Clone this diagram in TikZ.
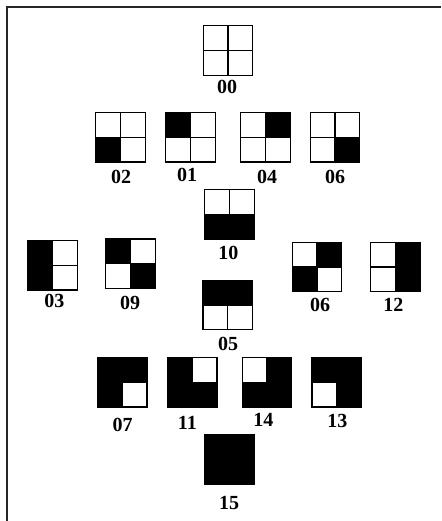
\documentclass[tikz,border=0pt]{standalone}
\usepackage{fontspec}
\setmainfont{Liberation Serif}
\usepackage{tikz}
\usetikzlibrary{positioning}

% one 2x2 tile: name, centre, filled corners
\newcommand{\tile}[3]{%
  \node[tilebox] (#1) at (#2) {};
  \foreach \c in {#3} {\fill[black] (#1.center) rectangle (#1.\c);}
  \draw[tileline] (#1.north) -- (#1.south) (#1.west) -- (#1.east);
  \draw[tileline] (#1.north west) rectangle (#1.south east);
}

\begin{document}
\begin{tikzpicture}[x=1pt,y=-1pt,
  tilebox/.style={minimum size=49.5pt,inner sep=0pt,outer sep=0pt},
  tileline/.style={line width=1.2pt,black},
  lbl/.style={font=\bfseries\fontsize{20}{20}\selectfont,inner sep=0pt},
  frameline/.style={line width=2pt,black!85}]
\useasboundingbox (0,0) rectangle (441,521);
\draw[frameline] (7,521) -- (7,7) -- (441,7);
% ---------- top ----------
\tile{t00}{228,50.5}{}
\node[lbl] (l00) at (227,87) {00};
% ---------- one corner ----------
\tile{t02}{120.5,137.3}{south west}
\node[lbl] (l02) at (121,176.7) {02};
\tile{t01}{190.5,137.3}{north west}
\node[lbl] (l01) at (187,175) {01};
\tile{t04}{265.5,137.3}{north east}
\node[lbl] (l04) at (267,176.7) {04};
\tile{t06a}{335,137.3}{south east}
\node[lbl] (l06a) at (335,176.7) {06};
% ---------- two corners ----------
\tile{t10}{229.5,214.3}{south west,south east}
\node[lbl] (l10) at (228.3,252.7) {10};
\tile{t03}{52.5,265.3}{north west,south west}
\node[lbl] (l03) at (54.3,300.7) {03};
\tile{t09}{130.5,263.8}{north west,south east}
\node[lbl] (l09) at (130,303.3) {09};
\tile{t05}{227.7,305}{north west,north east}
\node[lbl] (l05) at (228,344) {05};
\tile{t06b}{317,267}{north east,south west}
\node[lbl] (l06b) at (320,305) {06};
\tile{t12}{395.3,267}{north east,south east}
\node[lbl] (l12) at (393.3,305) {12};
% ---------- three corners ----------
\tile{t07}{122.3,382.3}{north west,north east,south west}
\node[lbl] (l07) at (122.7,425) {07};
\tile{t11}{192.3,382.3}{north west,south west,south east}
\node[lbl] (l11) at (187.3,422.7) {11};
\tile{t14}{267,382.3}{north east,south west,south east}
\node[lbl] (l14) at (263.3,420) {14};
\tile{t13}{336.7,382.3}{north west,north east,south east}
\node[lbl] (l13) at (337.3,420.7) {13};
% ---------- all four ----------
\tile{t15}{229.3,459.2}{north west,north east,south west,south east}
\node[lbl] (l15) at (229,502.7) {15};
\end{tikzpicture}
\end{document}
